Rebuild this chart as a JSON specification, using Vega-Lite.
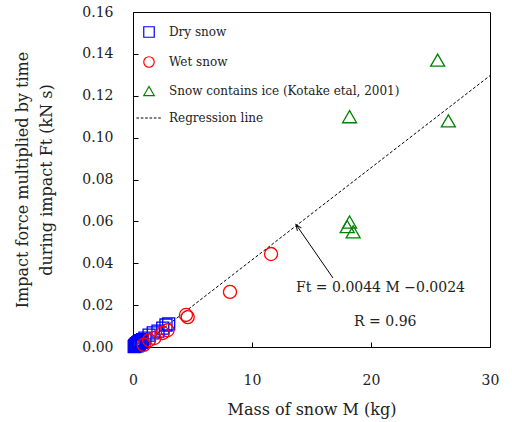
{
  "$schema": "https://vega.github.io/schema/vega-lite/v6.json",
  "width": 357,
  "height": 335,
  "autosize": "none",
  "padding": {"left": 133, "top": 12, "right": 22, "bottom": 75},
  "background": "white",
  "config": {
    "font": "DejaVu Serif",
    "view": {"stroke": "black", "strokeWidth": 1},
    "axis": {"domainColor": "black", "tickColor": "black", "labelColor": "#222", "titleColor": "#222", "labelFont": "DejaVu Serif", "titleFont": "DejaVu Serif", "titleFontWeight": "normal", "grid": false, "labelFlush": false}
  },
  "datasets": {
    "points": [
      {"type": "Dry snow", "M": 0.1, "Ft": 0.0002},
      {"type": "Dry snow", "M": 0.15, "Ft": 0.0008},
      {"type": "Dry snow", "M": 0.2, "Ft": 0.0004},
      {"type": "Dry snow", "M": 0.25, "Ft": 0.0012},
      {"type": "Dry snow", "M": 0.3, "Ft": 0.0016},
      {"type": "Dry snow", "M": 0.35, "Ft": 0.0006},
      {"type": "Dry snow", "M": 0.4, "Ft": 0.0021},
      {"type": "Dry snow", "M": 0.45, "Ft": 0.001},
      {"type": "Dry snow", "M": 0.5, "Ft": 0.0025},
      {"type": "Dry snow", "M": 0.55, "Ft": 0.0014},
      {"type": "Dry snow", "M": 0.6, "Ft": 0.003},
      {"type": "Dry snow", "M": 0.7, "Ft": 0.0022},
      {"type": "Dry snow", "M": 0.8, "Ft": 0.0035},
      {"type": "Dry snow", "M": 1.0, "Ft": 0.0042},
      {"type": "Dry snow", "M": 1.35, "Ft": 0.0057},
      {"type": "Dry snow", "M": 1.7, "Ft": 0.0067},
      {"type": "Dry snow", "M": 2.1, "Ft": 0.0076},
      {"type": "Dry snow", "M": 2.5, "Ft": 0.009},
      {"type": "Dry snow", "M": 2.77, "Ft": 0.0105},
      {"type": "Dry snow", "M": 3.0, "Ft": 0.011},
      {"type": "Wet snow", "M": 0.9, "Ft": 0.001},
      {"type": "Wet snow", "M": 1.35, "Ft": 0.0033},
      {"type": "Wet snow", "M": 1.8, "Ft": 0.0043},
      {"type": "Wet snow", "M": 2.5, "Ft": 0.0067},
      {"type": "Wet snow", "M": 2.9, "Ft": 0.008},
      {"type": "Wet snow", "M": 4.45, "Ft": 0.0153},
      {"type": "Wet snow", "M": 4.6, "Ft": 0.0143},
      {"type": "Wet snow", "M": 8.15, "Ft": 0.0263},
      {"type": "Wet snow", "M": 11.6, "Ft": 0.0444},
      {"type": "Snow contains ice (Kotake etal, 2001)", "M": 25.6, "Ft": 0.137},
      {"type": "Snow contains ice (Kotake etal, 2001)", "M": 18.2, "Ft": 0.11},
      {"type": "Snow contains ice (Kotake etal, 2001)", "M": 26.5, "Ft": 0.108},
      {"type": "Snow contains ice (Kotake etal, 2001)", "M": 18.2, "Ft": 0.0597},
      {"type": "Snow contains ice (Kotake etal, 2001)", "M": 18.0, "Ft": 0.0575},
      {"type": "Snow contains ice (Kotake etal, 2001)", "M": 18.5, "Ft": 0.055}
    ],
    "regression": [
      {"M": 2, "Ft": 0.0064},
      {"M": 30, "Ft": 0.1296}
    ],
    "arrow": [
      {"M": 16.8, "Ft": 0.033, "M2": 13.7, "Ft2": 0.0585}
    ],
    "labels": [
      {"M": 20.8, "Ft": 0.0282, "label": "Ft = 0.0044 M −0.0024"},
      {"M": 21.2, "Ft": 0.0119, "label": "R = 0.96"}
    ]
  },
  "layer": [
    {
      "data": {"name": "regression"},
      "mark": {"type": "line", "color": "black", "strokeWidth": 1, "strokeDash": [3, 2]},
      "encoding": {
        "x": {"field": "M", "type": "quantitative", "scale": {"domain": [0, 30], "nice": false},
          "axis": {"values": [0, 10, 20, 30], "tickSize": -5, "labelPadding": 31, "labelFontSize": 14, "title": "Mass of snow M (kg)", "titleFontSize": 16, "titlePadding": 14}},
        "y": {"field": "Ft", "type": "quantitative", "scale": {"domain": [0, 0.16], "nice": false},
          "axis": {"values": [0, 0.02, 0.04, 0.06, 0.08, 0.1, 0.12, 0.14, 0.16], "format": ".2f", "tickSize": -5, "labelPadding": 25, "labelFontSize": 14,
            "title": ["Impact force multiplied by time", "during impact Ft (kN s)"], "titleFontSize": 16, "titleLineHeight": 24, "titlePadding": 27}}
      }
    },
    {
      "data": {"name": "points"},
      "mark": {"type": "point", "filled": false, "strokeWidth": 1.3, "opacity": 1},
      "encoding": {
        "x": {"field": "M", "type": "quantitative"},
        "y": {"field": "Ft", "type": "quantitative"},
        "color": {"field": "type", "type": "nominal",
          "scale": {"domain": ["Dry snow", "Wet snow", "Snow contains ice (Kotake etal, 2001)", "Regression line"], "range": ["#0000ff", "#ff0000", "#008000", "#000000"]},
          "legend": {"title": null, "orient": "none", "legendX": 10, "legendY": 14, "rowPadding": 14, "symbolSize": 110, "symbolStrokeWidth": 1.2, "labelFont": "DejaVu Serif", "labelFontSize": 12, "labelColor": "#222", "labelOffset": 14, "labelLimit": 400}},
        "shape": {"field": "type", "type": "nominal",
          "scale": {"domain": ["Dry snow", "Wet snow", "Snow contains ice (Kotake etal, 2001)", "Regression line"], "range": ["square", "circle", "triangle-up", "M -2.4 0 L -1.9 0 M -1.57 0 L -1.07 0 M -0.74 0 L -0.24 0 M 0.09 0 L 0.59 0 M 0.92 0 L 1.42 0 M 1.75 0 L 2.25 0"]}},
        "size": {"field": "type", "type": "nominal", "legend": null,
          "scale": {"domain": ["Dry snow", "Wet snow", "Snow contains ice (Kotake etal, 2001)"], "range": [144, 196, 230]}}
      }
    },
    {
      "data": {"name": "arrow"},
      "mark": {"type": "rule", "color": "black", "strokeWidth": 1},
      "encoding": {
        "x": {"field": "M", "type": "quantitative"},
        "y": {"field": "Ft", "type": "quantitative"},
        "x2": {"field": "M2"},
        "y2": {"field": "Ft2"}
      }
    },
    {
      "data": {"name": "arrow"},
      "mark": {"type": "point", "shape": "M -0.6 1.5 L 0 0 L 0.6 1.5", "filled": false, "color": "black", "strokeWidth": 1, "size": 64, "angle": 326, "opacity": 1},
      "encoding": {
        "x": {"field": "M2", "type": "quantitative"},
        "y": {"field": "Ft2", "type": "quantitative"}
      }
    },
    {
      "data": {"name": "labels"},
      "mark": {"type": "text", "font": "DejaVu Serif", "fontSize": 14, "color": "#222"},
      "encoding": {
        "x": {"field": "M", "type": "quantitative"},
        "y": {"field": "Ft", "type": "quantitative"},
        "text": {"field": "label"}
      }
    }
  ]
}
